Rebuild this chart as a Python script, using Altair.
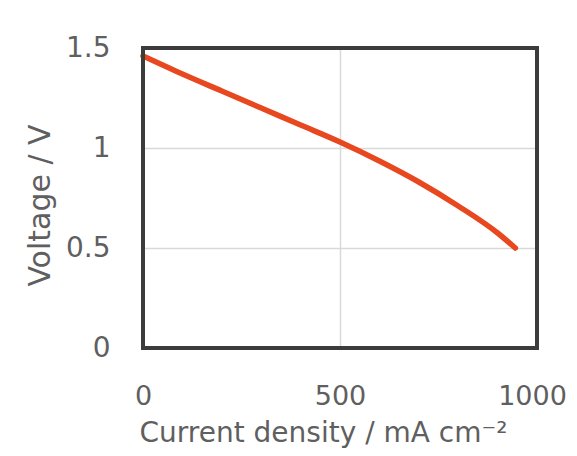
import altair as alt
import pandas as pd

current = [0, 100, 200, 300, 400, 500, 600, 700, 800, 900, 945]
voltage = [1.46, 1.37, 1.285, 1.20, 1.115, 1.03, 0.935, 0.83, 0.71, 0.575, 0.50]
x_ticks = [0, 500, 1000]
y_ticks = [0, 0.5, 1, 1.5]

df = pd.DataFrame({"current": current, "voltage": voltage})

FONT = "DejaVu Sans"
GRAY = "#5f5f5f"
W, H = 394, 300

line = alt.Chart(df).mark_line(
    color="#E8481F", strokeWidth=5.5, interpolate="monotone", strokeCap="round"
).encode(
    x=alt.X("current:Q",
            scale=alt.Scale(domain=[0, 1000], nice=False),
            axis=alt.Axis(values=x_ticks, title="Current density / mA cm⁻²",
                          format="d", labelFlush=False,
                          labelOffset={"condition": {"test": "datum.value == 1000", "value": -5}, "value": 0},
                          domain=False, ticks=False, labelPadding=35,
                          labelFontSize=27, labelColor=GRAY, labelFont=FONT,
                          titleFontSize=28, titleColor=GRAY, titleFont=FONT,
                          titleFontWeight="normal",
                          titleX=180, titleY=93, titleBaseline="alphabetic",
                          titleAlign="center",
                          gridColor="#d9d9d9", gridWidth=1.5)),
    y=alt.Y("voltage:Q",
            scale=alt.Scale(domain=[0, 1.5], nice=False),
            axis=alt.Axis(values=y_ticks, title="Voltage / V", format="~g",
                          labelFlush=False,
                          domain=False, ticks=False, labelPadding=33,
                          labelFontSize=28, labelColor=GRAY, labelFont=FONT,
                          titleFontSize=30, titleColor=GRAY, titleFont=FONT,
                          titleFontWeight="normal",
                          titleX=-103, titleY=157, titleBaseline="middle",
                          titleAlign="center", titleAngle=270,
                          gridColor="#d9d9d9", gridWidth=1.5)),
)

frame = alt.Chart(df).mark_rect(
    filled=False, stroke="#3c3c3c", strokeWidth=3
).encode(
    x=alt.value(0), x2=alt.value(W), y=alt.value(0), y2=alt.value(H)
)

chart = alt.layer(line, frame).properties(
    width=W, height=H,
    autosize=alt.AutoSizeParams(type="none"),
    padding={"left": 135, "top": 40, "right": 32, "bottom": 100},
).configure_view(
    stroke=None
)

chart.save("out.html", embed_options={"renderer": "svg", "actions": False})
